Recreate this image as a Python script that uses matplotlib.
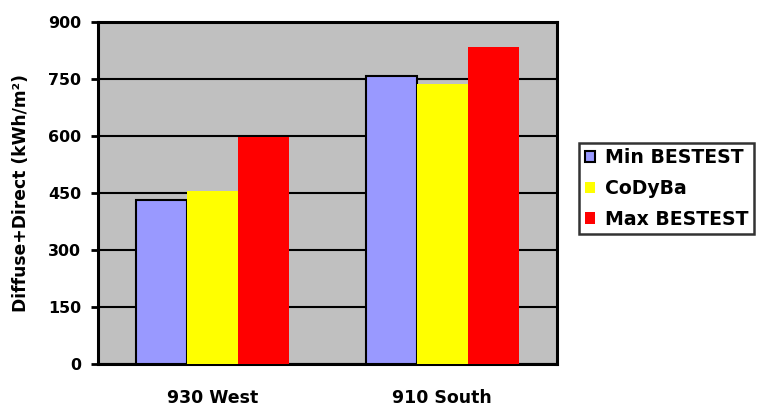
import matplotlib
matplotlib.use("Agg")
import matplotlib.pyplot as plt
import numpy as np

# values (kWh/m2)
cases = ["930 West", "910 South"]
series = ["Min BESTEST", "CoDyBa", "Max BESTEST"]
min_bestest = [431, 757]
codyba = [455, 737]
max_bestest = [597, 833]
yticks = [0, 150, 300, 450, 600, 750, 900]

colors = ["#9999FF", "#FFFF00", "#FF0000"]
edges = ["black", "none", "none"]

plt.rcParams["font.family"] = ["DejaVu Sans"]
plt.rcParams["font.weight"] = "bold"

fig = plt.figure(figsize=(7.59, 4.08), dpi=100)
ax = fig.add_axes([0.129, 0.108, 0.605, 0.838])
ax.set_facecolor("#C0C0C0")

x = np.arange(len(cases))
w = 0.222
for i, vals in enumerate([min_bestest, codyba, max_bestest]):
    ax.bar(x + (i - 1) * w, vals, w, color=colors[i], edgecolor=edges[i],
           linewidth=1.5, label=series[i], zorder=3)

ax.set_xlim(-0.5, 1.5)
ax.set_ylim(0, 900)
ax.set_yticks(yticks)
ax.set_yticklabels([str(t) for t in yticks], fontsize=11.4, fontweight="bold")
ax.set_xticks(x)
ax.set_xticklabels(cases, fontsize=12.5, fontweight="bold")
ax.tick_params(axis="x", length=0, pad=18)
ax.tick_params(axis="y", length=5, width=2, direction="out", pad=7)
ax.grid(axis="y", color="black", linewidth=1.5, zorder=1)
ax.set_axisbelow(True)
for s in ax.spines.values():
    s.set_linewidth(2.2)
ax.set_ylabel("Diffuse+Direct (kWh/m²)", fontsize=12.3, fontweight="bold", labelpad=13)

leg = ax.legend(loc="center left", bbox_to_anchor=(1.048, 0.513), frameon=True,
                fancybox=False, edgecolor="black", fontsize=13.6,
                handlelength=0.55, handleheight=0.55, handletextpad=0.5,
                borderpad=0.3, labelspacing=0.62, borderaxespad=0)
leg.get_frame().set_linewidth(1.8)
for t in leg.get_texts():
    t.set_fontweight("bold")

fig.savefig("out.png", dpi=100)
